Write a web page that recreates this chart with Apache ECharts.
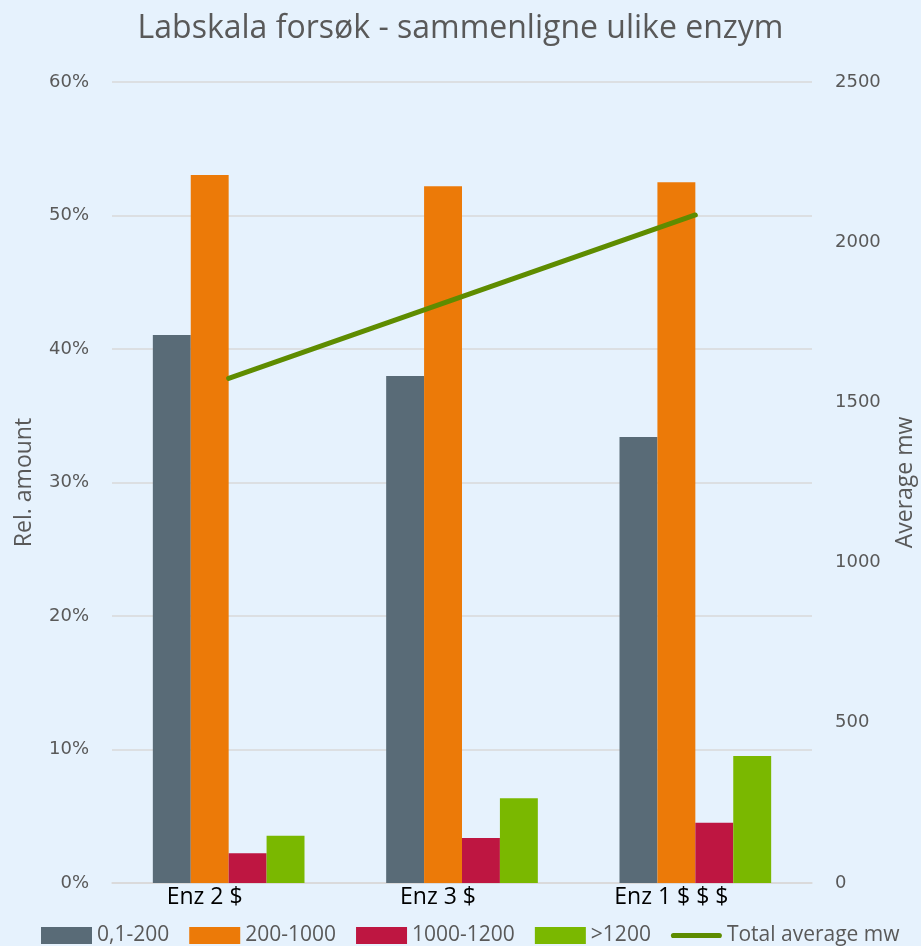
<!DOCTYPE html>
<html><head><meta charset="utf-8">
<script src="https://cdn.jsdelivr.net/npm/echarts@6/dist/echarts.min.js"></script>
<style>html,body{margin:0;padding:0;background:#E6F2FD;}#c{width:921px;height:946px;}</style>
</head><body><div id="c"></div>
<script>
const categories = ['Enz 2 $', 'Enz 3 $', 'Enz 1 $ $ $'];
const s0_200 = [0.4105, 0.3798, 0.334];
const s200_1000 = [0.5303, 0.522, 0.525];
const s1000_1200 = [0.0222, 0.0337, 0.0452];
const s1200 = [0.0354, 0.0634, 0.0951];
const avgMw = [1575, 1830, 2085];
const leftTicks = ['0%','10%','20%','30%','40%','50%','60%'];
const rightTicks = ['0','500','1000','1500','2000','2500'];

const chart = echarts.init(document.getElementById('c'));
const narrow = 'Open Sans';
const barBase = {type:'bar', barGap:'0%', barCategoryGap:'35%', yAxisIndex:0};
chart.setOption({
  backgroundColor:'#E6F2FD',
  animation:false,
  title:{text:'Labskala forsøk - sammenligne ulike enzym', left:'center', top:8,
    textStyle:{fontFamily:narrow, fontSize:32, fontWeight:'normal', color:'#595959'}},
  grid:{left:112, right:109, top:82, bottom:63, containLabel:false, outerBoundsMode:'none'},
  legend:{left:41, bottom:0, padding:0, itemWidth:51, itemHeight:17, itemGap:20,
    textStyle:{fontFamily:narrow, fontSize:21, color:'#595959'},
    data:[{name:'0,1-200',icon:'rect'},{name:'200-1000',icon:'rect'},{name:'1000-1200',icon:'rect'},{name:'>1200',icon:'rect'},
      {name:'Total average mw', icon:'path://M3,0 L57,0 A3,3 0 0 1 57,6 L3,6 A3,3 0 0 1 3,0 Z'}]},
  xAxis:{type:'category', data:categories,
    axisLine:{lineStyle:{color:'#D9D9D9', width:1.5}}, axisTick:{show:false},
    axisLabel:{fontFamily:narrow, fontSize:23, color:'#000', margin:3, padding:[0,48,0,0]}},
  yAxis:[
    {type:'value', min:0, max:0.6, interval:0.1, name:'Rel. amount', nameLocation:'middle', nameGap:76,
      nameTextStyle:{fontFamily:narrow, fontSize:23, color:'#595959'},
      axisLabel:{fontFamily:'DejaVu Sans', fontSize:18, color:'#595959', margin:23,
        formatter:v=>leftTicks[Math.round(v*10)]},
      splitLine:{lineStyle:{color:'#D9D9D9', width:1.5}}, axisLine:{show:false}, axisTick:{show:false}},
    {type:'value', min:0, max:2500, interval:500, name:'Average mw', nameLocation:'middle', nameGap:82,
      nameTextStyle:{fontFamily:narrow, fontSize:23, color:'#595959'},
      axisLabel:{fontFamily:'DejaVu Sans', fontSize:18, color:'#595959', margin:23,
        formatter:v=>rightTicks[Math.round(v/500)]},
      splitLine:{show:false}, axisLine:{show:false}, axisTick:{show:false}}
  ],
  series:[
    Object.assign({}, barBase, {name:'0,1-200', data:s0_200, itemStyle:{color:'#596B77'}}),
    Object.assign({}, barBase, {name:'200-1000', data:s200_1000, itemStyle:{color:'#EC7A08'}}),
    Object.assign({}, barBase, {name:'1000-1200', data:s1000_1200, itemStyle:{color:'#BE1641'}}),
    Object.assign({}, barBase, {name:'>1200', data:s1200, itemStyle:{color:'#7AB800'}}),
    {type:'line', name:'Total average mw', yAxisIndex:1, data:avgMw, symbol:'none',
      lineStyle:{color:'#5E8C00', width:5, cap:'round'}, itemStyle:{color:'#5E8C00'}}
  ]
});
</script></body></html>
